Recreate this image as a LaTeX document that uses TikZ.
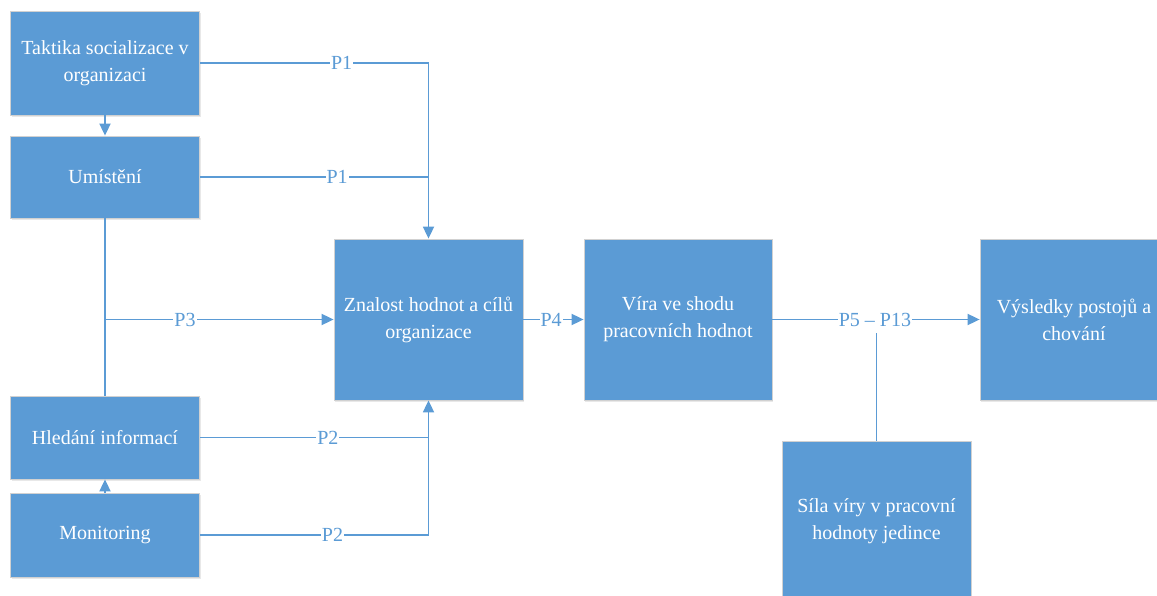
\documentclass[tikz,border=0pt]{standalone}
\usepackage{fontspec}
\setmainfont{Liberation Serif}
\newfontfamily\boxfont[Ligatures=TeX]{Liberation Serif}
\usetikzlibrary{arrows.meta,shadows}
\definecolor{boxblue}{RGB}{91,155,213}
\tikzset{
  box/.style={draw=black!18, line width=0.8pt, fill=boxblue, text=white, align=center,
    minimum width=189pt, inner sep=0pt, font=\boxfont\fontsize{20}{27}\selectfont,
    drop shadow={shadow xshift=1pt, shadow yshift=-2pt, opacity=0.18}},
  link/.style={draw=boxblue, line width=1.8pt},
  arr/.style={link, -{Triangle[length=12pt,width=11pt]}},
  plabel/.style={fill=white, text=boxblue, inner sep=1pt, font=\boxfont\fontsize{20}{22}\selectfont}
}

\begin{document}
\begin{tikzpicture}[x=1pt,y=-1pt]
		%%%%% START %%%%%
		\useasboundingbox (0,0) rectangle (1157,596);
		
		\node[box, minimum height=104pt] (taktika) at (105,63) {Taktika socializace v\\organizaci};
		\node[box, minimum height=82pt] (umisteni) at (105,177) {Umístění};
		\node[box, minimum height=83pt] (hledani) at (105,437.5) {Hledání informací};
		\node[box, minimum height=84pt] (monitoring) at (105,535) {Monitoring};
		
		\node[box, minimum height=161pt] (znalost) at (428.5,319.5) {Znalost hodnot a cílů\\organizace};
		\node[box, minimum height=161pt, minimum width=188pt] (vira) at (678,319.5) {Víra ve shodu\\pracovních hodnot};
		\node[box, minimum height=161pt, minimum width=188pt] (vysledky) at (1074,319.5) {Výsledky postojů a\\chování};
		\node[box, minimum height=161pt] (sila) at (876.5,521.5) {Síla víry v pracovní\\hodnoty jedince};
		
		% left column
		\draw[arr] (taktika) -- (umisteni);
		\draw[arr] (monitoring) -- (hledani);
		\draw[link] (umisteni) -- (hledani);
		\coordinate (j3) at (umisteni.south |- znalost.west);
		\draw[arr] (j3) -- node[plabel, pos=0.35] {P3} (znalost.west);
		
		% P1 and P2
		\draw[link] (taktika.east) -- node[plabel, pos=0.62] {P1} (taktika.east -| znalost.north);
		\draw[arr] (taktika.east -| znalost.north) -- (znalost.north);
		\draw[link] (umisteni.east) -- node[plabel, pos=0.6] {P1} (umisteni.east -| znalost.north);
		\draw[link] (hledani.east) -- node[plabel, pos=0.56] {P2} (hledani.east -| znalost.south);
		\draw[link] (monitoring.east) -- node[plabel, pos=0.58] {P2} (monitoring.east -| znalost.south);
		\draw[arr] (monitoring.east -| znalost.south) -- (znalost.south);
		
		% right part
		\draw[arr] (znalost.east) -- node[plabel, pos=0.46] {P4} (vira.west);
		\draw[arr] (vira.east) -- node[plabel, pos=0.495] (p513) {P5 – P13} (vysledky.west);
		\draw[link, shorten >=5pt] (sila.north) -- (sila.north |- p513.south);
		
		%%%%% END %%%%%
\end{tikzpicture}
\end{document}
